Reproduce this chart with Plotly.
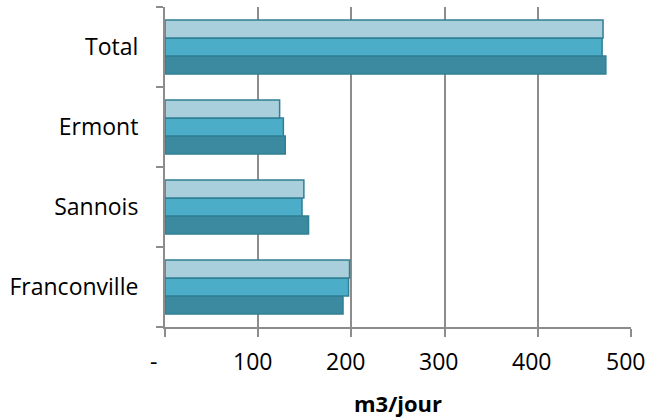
import plotly.graph_objects as go

# Sites, listed bottom to top
sites = ["Franconville", "Sannois", "Ermont", "Total"]

# Daily volumes (m3/jour) for the three series, bottom bar first
serie_1 = [191, 154, 129, 473]
serie_2 = [197, 147, 127, 469]
serie_3 = [198, 149, 123, 470]

x_ticks = [0, 100, 200, 300, 400, 500]
x_tick_text = ["-", "100", "200", "300", "400", "500"]
x_title = "m3/jour"

fills = ["#3B8AA0", "#4BADC7", "#A9CEDC"]
outline = "#317F94"

fig = go.Figure()
for name, vals, col in zip(["Série 1", "Série 2", "Série 3"],
                           [serie_1, serie_2, serie_3], fills):
    fig.add_trace(go.Bar(
        y=sites, x=vals, name=name, orientation="h",
        marker=dict(color=col, line=dict(color=outline, width=1.5)),
        hoverinfo="x+y",
    ))

# Value labels under the x axis, set slightly left of each tick
# (accounting-style number format with a trailing space)
for v, t in zip(x_ticks, x_tick_text):
    fig.add_annotation(
        x=v, xref="x", y=0, yref="paper",
        text=t, showarrow=False,
        xanchor="center", yanchor="middle",
        xshift=-12 if t == "-" else -6, yshift=-34,
        font=dict(size=23),
    )

fig.add_annotation(
    x=0.5, xref="paper", y=0, yref="paper",
    text=f"<b>{x_title}</b>", showarrow=False,
    xanchor="center", yanchor="middle", yshift=-76,
    font=dict(size=22),
)

grey = "#8C8C8C"
fig.update_layout(
    width=647, height=417,
    margin=dict(l=165, r=16, t=7, b=90, autoexpand=False),
    barmode="group", bargap=0.325, bargroupgap=0,
    showlegend=False,
    plot_bgcolor="white", paper_bgcolor="white",
    font=dict(family="Open Sans", size=23, color="#000000"),
    xaxis=dict(
        range=[0, 500],
        tickvals=x_ticks,
        showticklabels=False,
        automargin=False,
        showgrid=True, gridcolor=grey, gridwidth=2,
        showline=True, linecolor=grey, linewidth=2,
        ticks="outside", ticklen=8, tickcolor=grey, tickwidth=2,
        zeroline=False,
    ),
    yaxis=dict(
        categoryorder="array", categoryarray=sites,
        range=[-0.5, 3.5],
        automargin=False,
        showline=True, linecolor=grey, linewidth=2,
        ticks="outside", tickson="boundaries", ticklen=7,
        tickcolor=grey, tickwidth=2,
        showgrid=False, zeroline=False,
        ticklabelstandoff=20,
    ),
)

fig.write_html("out.html")
